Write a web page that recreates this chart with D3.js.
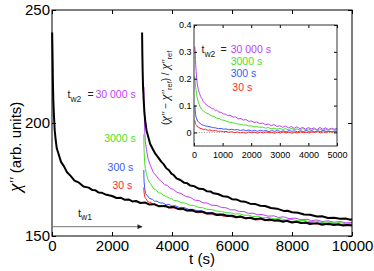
<!DOCTYPE html>
<html><head><meta charset="utf-8">
<script src="https://cdn.jsdelivr.net/npm/d3@7"></script>
<style>
html,body{margin:0;padding:0;background:#fff;}
svg{display:block;font-family:"Liberation Sans",Arial,Helvetica,sans-serif;}
</style></head><body>
<svg id="c" width="374" height="271"></svg>
<script>
// ---------- DATA (main plot, t in s, chi'' in arb. units) ----------
const mainXTicks = [0, 2000, 4000, 6000, 8000, 10000];
const mainYTicks = [150, 200, 250];
const insetXTicks = [0, 1000, 2000, 3000, 4000, 5000];
const insetYTicks = [0, 0.1, 0.2, 0.3, 0.4];
const tw2Labels = ["30 000 s", "3000 s", "300 s", "30 s"];
const seriesColors = ["#c040f8", "#48e028", "#3858ff", "#ff2828"];

const black1 = [[5,240.0],[10,236.0],[20,228.3],[30,218.4],[45,209.6],[65,203.3],[90,196.8],[120,192.9],[160,188.7],[220,186.3],[300,182.8],[400,180.8],[500,178.2],[620,176.6],[750,174.5],[900,173.6],[1050,171.9],[1220,171.4],[1350,170.3],[1450,170.2],[1560,169.2],[1667,169.1],[1780,168.4],[1900,168.0],[2000,167.7],[2150,166.8],[2300,166.9],[2430,166.0],[2553,166.2],[2680,165.3],[2800,165.5],[2950,164.6],[3110,164.8],[3250,163.9],[3400,164.1],[3550,163.2],[3777,163.3],[3900,162.6],[4053,162.9],[4200,162.0],[4350,162.1],[4500,161.3],[4650,161.5],[4800,160.7],[5000,160.8],[5167,160.0],[5350,160.1],[5500,159.3],[5700,159.5],[5850,158.8],[6000,159.0],[6150,158.3],[6277,158.6],[6450,157.9],[6610,158.1],[6780,157.4],[6943,157.8],[7100,157.0],[7250,157.3],[7400,156.8],[7550,157.0],[7700,156.3],[7833,156.7],[8000,156.0],[8150,156.3],[8300,155.7],[8450,156.0],[8600,155.3],[8833,155.7],[9000,155.0],[9200,155.4],[9400,154.9],[9550,155.2],[9700,154.6],[9850,154.9],[10000,154.6]];

const black2 = [[3003,240.0],[3010,232.0],[3020,224.2],[3035,215.8],[3055,210.3],[3080,204.8],[3110,200.7],[3150,196.8],[3200,194.3],[3270,190.8],[3350,188.7],[3443,186.4],[3550,184.6],[3640,182.9],[3720,181.8],[3810,180.0],[3900,179.1],[3980,177.6],[4053,177.0],[4150,175.5],[4277,174.8],[4400,173.6],[4500,173.4],[4610,172.3],[4750,172.0],[4900,170.9],[5030,170.8],[5167,169.8],[5280,169.7],[5380,168.9],[5530,168.6],[5700,167.6],[5850,167.4],[6000,166.3],[6140,166.2],[6277,165.4],[6430,165.2],[6600,164.3],[6760,164.2],[6943,163.4],[7100,163.3],[7300,162.4],[7500,162.1],[7720,161.1],[7850,161.2],[8000,160.5],[8200,160.3],[8400,159.5],[8600,159.4],[8833,158.6],[9000,158.7],[9200,158.0],[9400,158.1],[9600,157.6],[9800,157.7],[9950,157.2],[10000,157.5]];

const mainMagenta = [[3065,216.0],[3070,209.0],[3076,204.8],[3088,197.2],[3110,191.8],[3150,188.2],[3200,184.3],[3280,181.2],[3380,178.1],[3500,176.2],[3570,174.9],[3650,174.2],[3750,172.8],[3850,172.3],[3950,171.0],[4053,170.6],[4170,169.3],[4300,168.8],[4450,167.6],[4610,167.1],[4750,165.9],[4900,165.7],[5030,164.7],[5167,164.6],[5330,163.6],[5500,163.5],[5650,162.6],[5800,162.5],[5950,161.6],[6100,161.6],[6250,160.8],[6400,160.8],[6550,160.0],[6700,160.1],[6850,159.4],[7000,159.5],[7200,158.8],[7400,158.9],[7550,158.2],[7720,158.5],[7900,157.7],[8100,157.9],[8300,157.2],[8500,157.4],[8650,156.8],[8833,157.1],[9000,156.4],[9200,156.7],[9400,156.1],[9600,156.4],[9800,155.8],[10000,156.0]];

const mainGreen = [[3060,195.0],[3065,190.5],[3070,187.8],[3085,183.2],[3110,179.8],[3150,177.2],[3200,174.8],[3280,173.2],[3400,170.8],[3480,170.3],[3550,169.1],[3640,168.9],[3720,167.9],[3810,167.6],[3900,166.8],[3980,166.6],[4053,165.8],[4180,165.6],[4300,164.8],[4450,164.5],[4610,163.6],[4750,163.4],[4900,162.6],[5030,162.5],[5167,161.8],[5330,161.7],[5500,161.0],[5650,160.9],[5800,160.3],[5950,160.3],[6100,159.7],[6250,159.8],[6400,159.2],[6550,159.2],[6700,158.6],[6850,158.7],[7000,158.1],[7200,158.2],[7400,157.6],[7600,157.7],[7800,157.1],[8000,157.3],[8200,156.7],[8400,156.9],[8600,156.3],[8800,156.6],[9000,156.0],[9200,156.2],[9400,155.7],[9600,155.9],[9800,155.4],[10000,155.7]];

const mainBlue = [[3060,179.2],[3065,176.0],[3070,174.0],[3090,171.2],[3120,168.8],[3170,168.0],[3250,166.6],[3350,166.2],[3420,165.4],[3500,165.4],[3600,164.6],[3700,164.6],[3800,163.8],[3900,164.0],[4000,163.2],[4100,163.4],[4250,162.6],[4400,162.6],[4550,161.8],[4700,161.8],[4850,161.1],[5000,161.1],[5150,160.4],[5300,160.4],[5450,159.8],[5600,159.8],[5750,159.2],[5900,159.3],[6100,158.7],[6277,158.7],[6450,158.1],[6600,158.2],[6800,157.6],[7000,157.7],[7200,157.1],[7400,157.2],[7600,156.7],[7800,156.8],[8000,156.3],[8200,156.4],[8400,155.9],[8600,156.0],[8800,155.5],[9000,155.7],[9200,155.2],[9400,155.4],[9600,154.9],[9800,155.1],[10000,154.8]];

const mainRed = [[3060,171.5],[3065,170.0],[3070,169.2],[3090,167.3],[3130,166.5],[3200,165.1],[3300,164.8],[3370,164.0],[3450,164.1],[3550,163.4],[3650,163.5],[3750,162.8],[3850,163.0],[3950,162.3],[4100,162.4],[4250,161.6],[4400,161.7],[4550,160.9],[4700,161.0],[4850,160.3],[5000,160.4],[5150,159.7],[5300,159.8],[5450,159.1],[5600,159.3],[5750,158.6],[5900,158.8],[6100,158.1],[6277,158.3],[6450,157.6],[6600,157.8],[6800,157.1],[7000,157.3],[7200,156.7],[7400,156.9],[7600,156.3],[7800,156.5],[8000,155.9],[8200,156.1],[8400,155.5],[8600,155.8],[8800,155.2],[9000,155.5],[9200,154.9],[9400,155.2],[9600,154.7],[9800,155.0],[10000,154.8]];

// ---------- DATA (inset, relative difference) ----------
const insetMagenta = [[30,0.320],[40,0.300],[50,0.272],[60,0.252],[75,0.226],[94,0.202],[115,0.180],[150,0.160],[190,0.146],[230,0.134],[269,0.127],[325,0.115],[380,0.108],[444,0.103],[500,0.096],[560,0.095],[620,0.089],[675,0.088],[740,0.082],[794,0.083],[870,0.076],[950,0.075],[1025,0.069],[1100,0.068],[1180,0.063],[1260,0.064],[1374,0.057],[1450,0.058],[1550,0.051],[1640,0.052],[1724,0.046],[1820,0.048],[1920,0.041],[2000,0.043],[2100,0.037],[2193,0.039],[2300,0.033],[2400,0.035],[2500,0.029],[2600,0.031],[2700,0.025],[2800,0.029],[2900,0.022],[3000,0.025],[3100,0.019],[3200,0.024],[3300,0.017],[3400,0.022],[3500,0.015],[3600,0.021],[3700,0.014],[3800,0.019],[3900,0.012],[4000,0.018],[4100,0.013],[4200,0.017],[4300,0.010],[4400,0.019],[4500,0.012],[4600,0.017],[4700,0.011],[4800,0.016],[4900,0.012],[5000,0.015]];

const insetGreen = [[30,0.210],[40,0.188],[55,0.168],[70,0.160],[94,0.140],[120,0.125],[150,0.114],[200,0.098],[269,0.085],[330,0.080],[444,0.071],[520,0.068],[600,0.062],[700,0.059],[794,0.053],[880,0.052],[960,0.047],[1050,0.045],[1150,0.041],[1259,0.038],[1350,0.036],[1450,0.034],[1550,0.031],[1650,0.030],[1724,0.027],[1820,0.028],[1920,0.024],[2000,0.025],[2100,0.021],[2193,0.022],[2300,0.019],[2400,0.020],[2500,0.016],[2600,0.018],[2700,0.014],[2800,0.016],[2900,0.012],[3000,0.015],[3100,0.011],[3200,0.014],[3300,0.010],[3400,0.015],[3500,0.011],[3600,0.013],[3700,0.009],[3800,0.014],[3900,0.010],[4000,0.013],[4100,0.008],[4200,0.012],[4300,0.009],[4400,0.013],[4500,0.008],[4600,0.012],[4700,0.009],[4800,0.013],[4900,0.010],[5000,0.012]];

const insetBlue = [[30,0.102],[40,0.085],[55,0.066],[75,0.056],[94,0.050],[130,0.042],[170,0.037],[210,0.034],[270,0.029],[330,0.027],[400,0.024],[480,0.023],[560,0.021],[650,0.018],[750,0.017],[850,0.014],[950,0.015],[1025,0.012],[1120,0.013],[1220,0.010],[1320,0.012],[1420,0.009],[1520,0.011],[1620,0.007],[1724,0.010],[1820,0.006],[1920,0.009],[2020,0.005],[2120,0.008],[2220,0.004],[2320,0.008],[2420,0.005],[2520,0.007],[2620,0.003],[2720,0.007],[2820,0.004],[2920,0.008],[3020,0.003],[3120,0.006],[3220,0.002],[3320,0.007],[3420,0.004],[3520,0.006],[3620,0.002],[3720,0.006],[3820,0.003],[3920,0.007],[4020,0.004],[4120,0.006],[4220,0.002],[4320,0.006],[4420,0.003],[4520,0.007],[4620,0.004],[4720,0.005],[4820,0.002],[4920,0.006],[5000,0.004]];

const insetRed = [[30,0.045],[40,0.038],[55,0.031],[75,0.029],[94,0.026],[130,0.020],[170,0.019],[210,0.015],[270,0.014],[330,0.011],[400,0.012],[480,0.008],[560,0.009],[650,0.006],[750,0.007],[850,0.004],[950,0.005],[1025,0.002],[1120,0.004],[1220,0.000],[1320,0.003],[1420,-0.001],[1520,0.002],[1620,-0.002],[1720,0.001],[1820,-0.003],[1920,0.002],[2020,-0.001],[2120,0.001],[2220,-0.003],[2320,0.001],[2420,-0.002],[2520,0.002],[2620,-0.001],[2720,0.000],[2820,-0.003],[2920,0.001],[3020,-0.002],[3120,0.002],[3220,-0.001],[3320,0.001],[3420,-0.003],[3520,0.000],[3620,-0.002],[3720,0.002],[3820,-0.001],[3920,0.001],[4020,-0.002],[4120,0.002],[4220,0.000],[4320,0.003],[4420,-0.001],[4520,0.002],[4620,0.000],[4720,0.003],[4820,0.001],[4920,0.003],[5000,0.002]];

// ---------- DRAWING ----------
const svg = d3.select("#c");
const M = {l: 52, r: 352, t: 10, b: 236};
const x = d3.scaleLinear().domain([0, 10000]).range([M.l, M.r]);
const y = d3.scaleLinear().domain([150, 250]).range([M.b, M.t]);
const CHI_FONT = '"Liberation Serif","DejaVu Serif",serif';

const main = svg.append("g");
const mainLine = d3.line().x(d => x(d[0])).y(d => y(d[1]));

[mainMagenta, mainGreen, mainBlue, mainRed].forEach((s, i) => {
  main.append("path").attr("d", mainLine(s)).attr("fill", "none")
    .attr("stroke", seriesColors[i]).attr("stroke-width", 1).attr("stroke-linejoin", "round");
});
[black1, black2].forEach(s => {
  main.append("path").attr("d", mainLine(s)).attr("fill", "none")
    .attr("stroke", "#000").attr("stroke-width", 2).attr("stroke-linejoin", "round");
});

function styleAxis(g, fs) {
  g.select(".domain").remove();
  g.selectAll("line").attr("stroke", "#000");
  g.selectAll("text").attr("font-size", fs).attr("fill", "#000")
    .attr("font-family", '"Liberation Sans",Arial,sans-serif');
}
main.append("g").attr("transform", `translate(0,${M.b})`)
  .call(d3.axisBottom(x).tickValues(mainXTicks).tickSize(-4).tickPadding(4.5).tickFormat(d3.format("d")))
  .call(g => styleAxis(g, 15));
main.append("g").attr("transform", `translate(0,${M.t})`)
  .call(d3.axisTop(x).tickValues(mainXTicks).tickSize(-4).tickFormat(""))
  .call(g => styleAxis(g, 15));
main.append("g").attr("transform", `translate(${M.l},0)`)
  .call(d3.axisLeft(y).tickValues(mainYTicks).tickSize(-4).tickPadding(2))
  .call(g => styleAxis(g, 15));
main.append("g").attr("transform", `translate(${M.r},0)`)
  .call(d3.axisRight(y).tickValues(mainYTicks).tickSize(-4).tickFormat(""))
  .call(g => styleAxis(g, 15));
main.append("rect").attr("x", M.l).attr("y", M.t).attr("width", M.r - M.l).attr("height", M.b - M.t)
  .attr("fill", "none").attr("stroke", "#000").attr("stroke-width", 1);

// axis titles
const yt = svg.append("text").attr("transform", "translate(21,192) rotate(-90)")
  .attr("font-size", 15).attr("fill", "#000");
yt.append("tspan").attr("font-family", CHI_FONT).attr("font-style", "italic").attr("font-size", 19).text("χ");
yt.append("tspan").attr("font-family", CHI_FONT).attr("font-style", "italic").attr("font-size", 14).attr("dy", -1).text("′′");
yt.append("tspan").attr("dy", 1).text(" (arb. units)");
svg.append("text").attr("x", 202).attr("y", 264).attr("text-anchor", "middle")
  .attr("font-size", 15).text("t (s)");

// t_w1 arrow
svg.append("defs").append("marker").attr("id", "ah").attr("viewBox", "0 0 10 10")
  .attr("refX", 9).attr("refY", 5).attr("markerWidth", 7).attr("markerHeight", 5)
  .attr("markerUnits", "userSpaceOnUse").attr("orient", "auto")
  .append("path").attr("d", "M0,0 L10,5 L0,10 Z").attr("fill", "#222");
svg.append("line").attr("x1", x(0)).attr("x2", x(3000)).attr("y1", 226.7).attr("y2", 226.7)
  .attr("stroke", "#777").attr("stroke-width", 1).attr("marker-end", "url(#ah)");
const tw1 = svg.append("text").attr("x", 78).attr("y", 216.5).attr("font-size", 11).attr("fill", "#222");
tw1.append("tspan").text("t");
tw1.append("tspan").attr("font-size", 8.5).attr("dy", 3.5).text("w1");

// t_w2 labels in main plot
const tw2 = svg.append("text").attr("x", 67.5).attr("y", 98).attr("font-size", 10.5).attr("fill", "#222");
tw2.append("tspan").text("t");
tw2.append("tspan").attr("font-size", 8.5).attr("dy", 3.5).text("w2");
tw2.append("tspan").attr("x", 87.5).attr("dy", -3.5).text("=");
const mainLabY = [98, 141.5, 170.5, 189];
const mainLabX = [135.7, 135.7, 133.3, 132.3];
tw2Labels.forEach((t, i) => {
  svg.append("text").attr("x", mainLabX[i]).attr("y", mainLabY[i]).attr("text-anchor", "end")
    .attr("font-size", 10.5).attr("fill", seriesColors[i]).text(t);
});

// ---------- INSET ----------
const I = {l: 194, r: 337, t: 25, b: 146};
const xi = d3.scaleLinear().domain([0, 5000]).range([I.l, I.r]);
const yi = d3.scaleLinear().domain([-0.0505, 0.4]).range([I.b, I.t]);
const ins = svg.append("g");
ins.append("rect").attr("x", I.l).attr("y", I.t).attr("width", I.r - I.l).attr("height", I.b - I.t)
  .attr("fill", "#fff");
ins.append("line").attr("x1", I.l).attr("x2", I.r).attr("y1", yi(0)).attr("y2", yi(0))
  .attr("stroke", "#888").attr("stroke-width", 0.8).attr("stroke-dasharray", "1,1.5");
const insLine = d3.line().x(d => xi(d[0])).y(d => yi(d[1]));
[insetMagenta, insetGreen, insetBlue, insetRed].forEach((s, i) => {
  ins.append("path").attr("d", insLine(s)).attr("fill", "none")
    .attr("stroke", seriesColors[i]).attr("stroke-width", 1).attr("stroke-linejoin", "round");
});
ins.append("g").attr("transform", `translate(0,${I.b})`)
  .call(d3.axisBottom(xi).tickValues(insetXTicks).tickSize(-3).tickPadding(5.5).tickFormat(d3.format("d")))
  .call(g => styleAxis(g, 9));
ins.append("g").attr("transform", `translate(0,${I.t})`)
  .call(d3.axisTop(xi).tickValues(insetXTicks).tickSize(-3).tickFormat(""))
  .call(g => styleAxis(g, 9));
ins.append("g").attr("transform", `translate(${I.l},0)`)
  .call(d3.axisLeft(yi).tickValues(insetYTicks).tickSize(-3).tickPadding(2.5).tickFormat(d => d === 0 ? "0" : d3.format(".1f")(d)))
  .call(g => styleAxis(g, 9));
ins.append("g").attr("transform", `translate(${I.r},0)`)
  .call(d3.axisRight(yi).tickValues(insetYTicks).tickSize(-3).tickFormat(""))
  .call(g => styleAxis(g, 9));
ins.append("rect").attr("x", I.l).attr("y", I.t).attr("width", I.r - I.l).attr("height", I.b - I.t)
  .attr("fill", "none").attr("stroke", "#333").attr("stroke-width", 1);

// inset y title
const iy = svg.append("text").attr("transform", "translate(169,125) rotate(-90)")
  .attr("font-size", 10).attr("fill", "#222");
function chi(sel) { sel.append("tspan").attr("font-family", CHI_FONT).attr("font-style", "italic").attr("font-size", 13).text("χ"); }
function primes(sel) { sel.append("tspan").attr("font-family", CHI_FONT).attr("font-style", "italic").attr("font-size", 10).text("′′"); }
iy.append("tspan").text("(");
chi(iy); primes(iy);
iy.append("tspan").text(" − ");
chi(iy); primes(iy);
iy.append("tspan").attr("font-size", 7.5).attr("dy", 3).text("ref");
iy.append("tspan").attr("dy", -3).text(") / ");
chi(iy); primes(iy);
iy.append("tspan").attr("font-size", 7.5).attr("dy", 3).text("ref");

// inset t_w2 labels
const itw = svg.append("text").attr("x", 201.5).attr("y", 53.3).attr("font-size", 10.5).attr("fill", "#222");
itw.append("tspan").text("t");
itw.append("tspan").attr("font-size", 8.5).attr("dy", 3.5).text("w2");
itw.append("tspan").attr("x", 220.5).attr("dy", -3.5).text("=");
const insLabY = [53.3, 64.5, 77.2, 90.5];
const insLabX = [230.7, 230.7, 230.7, 232.3];
tw2Labels.forEach((t, i) => {
  svg.append("text").attr("x", insLabX[i]).attr("y", insLabY[i])
    .attr("font-size", 10.5).attr("fill", seriesColors[i]).text(t);
});
</script>
</body></html>
